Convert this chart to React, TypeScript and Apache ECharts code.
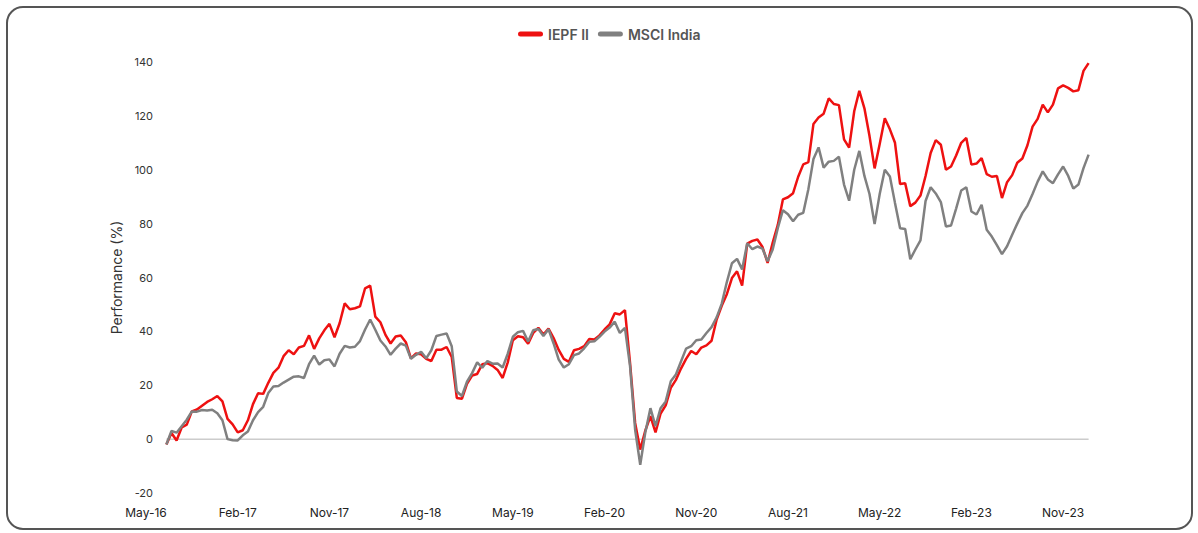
import React, { useEffect, useRef } from "react";
import * as echarts from "echarts";

// Semi-monthly observations starting July 2016 (month index 2 counted from May 2016)
const START_MONTH = 2;
const STEP_MONTH = 0.5;

const iepf: number[] = [
  -2, 2.3, -0.5, 4.3, 5.4, 10.3, 11, 12.4, 13.8, 14.8,
  16, 14, 7.5, 5.5, 2.5, 3.3, 7, 13, 17, 16.8,
  20.9, 24.6, 26.5, 30.8, 33, 31.5, 34, 34.6, 38.5, 33.5,
  37.4, 40.4, 42.8, 37.8, 43, 50.4, 48.2, 48.6, 49.3, 56,
  57, 45.5, 43.4, 38.7, 35.5, 38.1, 38.5, 36, 30, 31.8,
  31.5, 29.8, 29, 33.2, 33.2, 34.2, 30.5, 15.3, 15, 20.5,
  23.6, 24.2, 27.8, 28.2, 27.2, 25.7, 22.7, 28.5, 36.7, 38.2,
  37.8, 35.4, 39.4, 41.3, 38.8, 41, 37.5, 33.1, 29.8, 28.7,
  33, 33.5, 34.5, 37.2, 37, 38.5, 40.7, 42.6, 46.7, 46.3,
  47.9, 28.3, 6, -3.9, 3.2, 8.5, 2.5, 9.5, 12.5, 19,
  22, 26.2, 29.8, 32.7, 31.5, 34, 34.8, 36.5, 44.4, 49.5,
  53.8, 59.8, 62.3, 57, 72.6, 73.6, 74.1, 71.3, 65.4, 73,
  79.5, 89, 89.8, 91.3, 97.4, 102, 102.8, 117, 119.4, 120.8,
  126.5, 124.4, 124, 111.3, 108.2, 121.7, 129.3, 122.8, 112.5, 100.5,
  109.6, 119.1, 115, 110, 94.7, 95, 86.5, 87.8, 90.4, 97.7,
  106.2, 111, 109.3, 100, 101.2, 105.3, 110, 111.8, 101.9, 102.3,
  104.3, 98.4, 97.4, 97.7, 89.5, 95.4, 98, 102.6, 104.2, 109.1,
  116, 118.9, 124.2, 121.3, 124.2, 130.2, 131.3, 130.4, 129.1, 129.5,
  136.7, 139.6,
];

const msci: number[] = [
  -2, 3, 2.4, 4.8, 7.2, 10.3, 10.2, 10.8, 10.6, 10.9,
  9.6, 7, 0, -0.4, -0.5, 1.4, 2.8, 7, 10, 12,
  17.1, 19.5, 19.7, 21, 22.1, 23.2, 23.3, 22.7, 27.8, 31,
  27.7, 29.3, 29.6, 27, 31.7, 34.6, 34, 34.3, 36.4, 40.7,
  44.4, 40.6, 36.6, 34.4, 31.3, 33.6, 35.5, 34.7, 29.8, 31.3,
  32.4, 30, 33, 38.3, 38.8, 39.2, 34.5, 17.7, 16, 21.3,
  24.5, 28.5, 26.5, 29, 28, 28.1, 26.6, 31.7, 38, 39.7,
  40.2, 36.2, 40.4, 40.9, 38.3, 40.8, 35.5, 29.5, 26.6, 27.8,
  31.2, 31.8, 33.7, 36.1, 36.3, 38, 39.9, 41.4, 43.6, 39.4,
  41.3, 27.1, 3.5, -9.5, 2.5, 11.5, 4.8, 11.5, 14, 21.5,
  24, 28.8, 33.6, 34.5, 36.7, 37, 39.4, 41.6, 45.2, 50.3,
  58.3, 65.3, 66.9, 63, 72.7, 70.5, 71.5, 70.7, 66, 70.4,
  78.3, 85, 83.5, 80.9, 83.3, 84, 92.8, 104, 108.3, 100.8,
  103, 103.3, 104.8, 94.5, 88.5, 100, 107, 97.7, 91, 79.8,
  91, 100, 97.5, 87.7, 78.3, 78, 66.8, 70.4, 73.8, 88.4,
  93.5, 91.2, 88, 78.9, 79.3, 85.6, 92.3, 93.5, 84.5, 83.4,
  87, 77.7, 75.2, 72, 68.7, 71.6, 75.9, 80, 83.9, 86.7,
  91, 95.6, 99.4, 96.4, 95, 98.3, 101.2, 97.7, 93, 94.5,
  100.6, 105.6,
];

const MONTHS = ["Jan", "Feb", "Mar", "Apr", "May", "Jun", "Jul", "Aug", "Sep", "Oct", "Nov", "Dec"];
const AXIS_START_YEAR = 2016;
const AXIS_START_MONTH = 4; // May (0-based)
const TICK_INTERVAL = 9;

const SERIES_NAMES = ["IEPF II", "MSCI India"];
const FONT = "Inter, 'Noto Sans', sans-serif";

function monthLabel(m: number): string {
  const total = AXIS_START_YEAR * 12 + AXIS_START_MONTH + m;
  const y = Math.floor(total / 12);
  const mo = total % 12;
  return `${MONTHS[mo]}-${String(y % 100).padStart(2, "0")}`;
}

export default function App() {
  const ref = useRef<HTMLDivElement>(null);
  useEffect(() => {
    if (!ref.current) return;
    const chart = echarts.init(ref.current, undefined, { renderer: "svg" });
    const xs = iepf.map((_, i) => START_MONTH + i * STEP_MONTH);
    const redData = iepf.map((v, i) => [xs[i], v]);
    const grayData = msci.map((v, i) => [xs[i], v]);
    const lastX = xs[xs.length - 1];
    chart.setOption({
      animation: false,
      backgroundColor: "#ffffff",
      graphic: [
        {
          type: "rect",
          shape: { x: 7, y: 7, width: 1185, height: 522, r: 16 },
          style: { fill: "none", stroke: "#555555", lineWidth: 2 },
          silent: true,
          z: 100,
        },
      ],
      legend: {
        data: SERIES_NAMES,
        left: 513,
        top: 22,
        itemWidth: 25,
        itemHeight: 5,
        itemGap: 9,
        icon: "path://M2.5,0 H22.5 A2.5,2.5 0 0 1 22.5,5 H2.5 A2.5,2.5 0 0 1 2.5,0 Z",
        textStyle: { fontFamily: FONT, fontSize: 14, fontWeight: 600, color: "#555555" },
      },
      grid: { left: 146, right: 109.4, top: 62, bottom: 40, containLabel: false },
      xAxis: {
        type: "value",
        min: 0,
        max: 92.5,
        interval: TICK_INTERVAL,
        axisLine: { show: false },
        axisTick: { show: false },
        splitLine: { show: false },
        axisLabel: {
          showMaxLabel: false,
          margin: 13,
          fontFamily: FONT,
          fontSize: 12,
          color: "#222222",
          formatter: (v: number) => (v % TICK_INTERVAL === 0 ? monthLabel(v) : ""),
        },
      },
      yAxis: {
        type: "value",
        min: -20,
        max: 140,
        interval: 20,
        offset: -15,
        name: "Performance (%)",
        nameLocation: "middle",
        nameGap: 32,
        nameTextStyle: { fontFamily: FONT, fontSize: 14, color: "#333333" },
        axisLine: { show: false },
        axisTick: { show: false },
        splitLine: { show: false },
        axisLabel: { margin: 8, fontFamily: FONT, fontSize: 11, color: "#333333" },
      },
      series: [
        {
          name: "zero",
          type: "line",
          data: [
            [xs[0], 0],
            [lastX, 0],
          ],
          symbol: "none",
          silent: true,
          lineStyle: { color: "#cccccc", width: 1.5 },
          z: 1,
        },
        {
          name: SERIES_NAMES[0],
          type: "line",
          data: redData,
          symbol: "none",
          color: "#ee1111",
          lineStyle: { color: "#ee1111", width: 2.5 },
          z: 2,
        },
        {
          name: SERIES_NAMES[1],
          type: "line",
          data: grayData,
          symbol: "none",
          color: "#808080",
          lineStyle: { color: "#808080", width: 2.5 },
          z: 3,
        },
      ],
    });
    return () => chart.dispose();
  }, []);
  return (
    <div
      ref={ref}
      style={{ position: "absolute", left: 0, top: 0, width: 1198, height: 533 }}
    />
  );
}
